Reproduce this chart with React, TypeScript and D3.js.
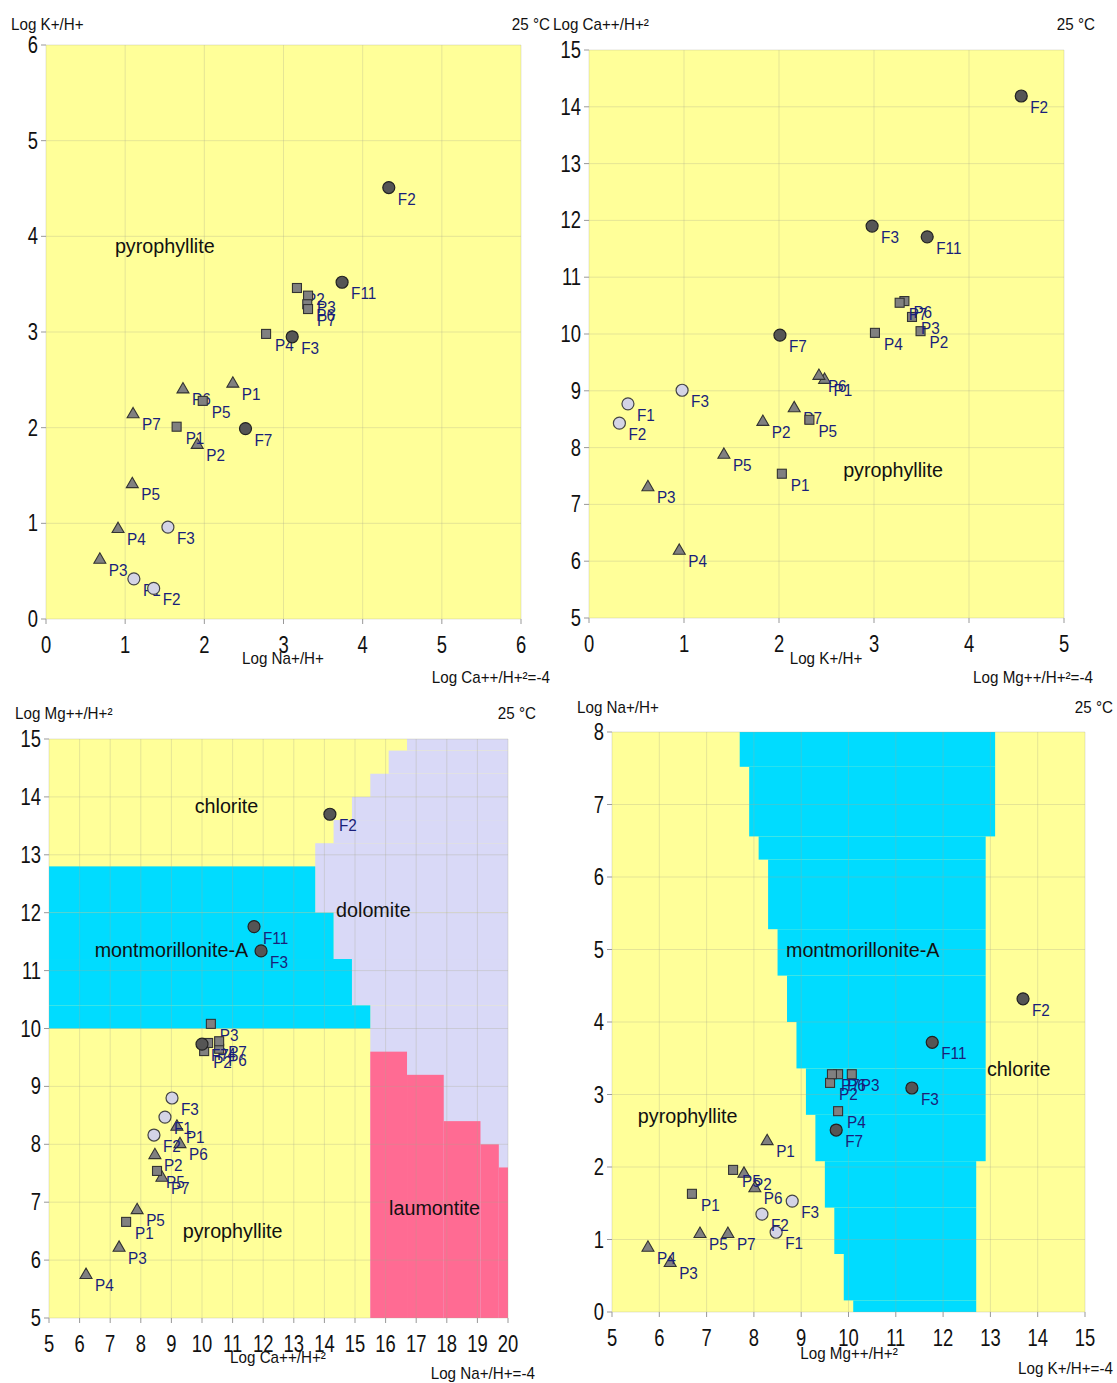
import React from 'react'
import * as d3 from 'd3'

// [label, x, y]
type Pt = [string, number, number]
// region rows: [yLow, yHigh, xLeft, xRight]
type Row = [number, number, number, number]

const FONT = "'Liberation Sans','Arial',sans-serif"
const YELLOW = '#ffff99'
const CYAN = '#00dcff'
const LAV = '#d9d9f7'
const PINK = '#ff6b93'
const LABEL = '#1a1f7a'

// ---------- panel 1 : Log Na+/H+ vs Log K+/H+ ----------
const p1Dark: Pt[] = [['F2', 4.33, 4.51], ['F11', 3.74, 3.52], ['F3', 3.11, 2.95], ['F7', 2.52, 1.99]]
const p1Light: Pt[] = [['F1', 1.11, 0.42], ['F2', 1.36, 0.32], ['F3', 1.54, 0.96]]
const p1Squares: Pt[] = [['P1', 1.65, 2.01], ['P2', 3.17, 3.46], ['P3', 3.31, 3.38], ['P4', 2.78, 2.98],
  ['P5', 1.98, 2.28], ['P6', 3.30, 3.29], ['P7', 3.31, 3.24]]
const p1Triangles: Pt[] = [['P1', 2.36, 2.47], ['P2', 1.91, 1.83], ['P3', 0.68, 0.63], ['P4', 0.91, 0.95],
  ['P5', 1.09, 1.42], ['P6', 1.73, 2.41], ['P7', 1.10, 2.15]]

// ---------- panel 2 : Log K+/H+ vs Log Ca++/H+2 ----------
const p2Dark: Pt[] = [['F2', 4.55, 14.19], ['F3', 2.98, 11.90], ['F11', 3.56, 11.71], ['F7', 2.01, 9.98]]
const p2Light: Pt[] = [['F1', 0.41, 8.77], ['F2', 0.32, 8.43], ['F3', 0.98, 9.01]]
const p2Squares: Pt[] = [['P1', 2.03, 7.54], ['P2', 3.49, 10.05], ['P3', 3.40, 10.30], ['P4', 3.01, 10.02],
  ['P5', 2.32, 8.49], ['P6', 3.32, 10.58], ['P7', 3.27, 10.55]]
const p2Triangles: Pt[] = [['P1', 2.48, 9.21], ['P2', 1.83, 8.47], ['P3', 0.62, 7.32], ['P4', 0.95, 6.20],
  ['P5', 1.42, 7.89], ['P6', 2.42, 9.28], ['P7', 2.16, 8.71]]

// ---------- panel 3 : Log Ca++/H+2 vs Log Mg++/H+2 ----------
const p3Dark: Pt[] = [['F2', 14.18, 13.70], ['F11', 11.70, 11.76], ['F3', 11.93, 11.34], ['F7', 10.0, 9.73]]
const p3Light: Pt[] = [['F1', 8.79, 8.47], ['F2', 8.43, 8.16], ['F3', 9.02, 8.80]]
const p3Squares: Pt[] = [['P1', 7.52, 6.66], ['P2', 10.07, 9.61], ['P3', 10.29, 10.08], ['P4', 10.20, 9.75],
  ['P5', 8.53, 7.54], ['P6', 10.56, 9.65], ['P7', 10.56, 9.78]]
const p3Triangles: Pt[] = [['P1', 9.18, 8.32], ['P2', 8.46, 7.83], ['P3', 7.29, 6.23], ['P4', 6.21, 5.76],
  ['P5', 7.88, 6.88], ['P6', 9.28, 8.02], ['P7', 8.69, 7.44]]
const p3Dolomite: Row[] = [[5, 10.4, 15.5, 20], [10.4, 11.2, 14.9, 20], [11.2, 12.0, 14.3, 20],
  [12.0, 13.2, 13.7, 20], [13.2, 13.6, 14.3, 20], [13.6, 14.0, 14.9, 20], [14.0, 14.4, 15.5, 20],
  [14.4, 14.8, 16.1, 20], [14.8, 15.0, 16.7, 20]]
const p3Mont: Row[] = [[10, 10.4, 5, 15.5], [10.4, 11.2, 5, 14.9], [11.2, 12.0, 5, 14.3], [12.0, 12.8, 5, 13.7]]
const p3Laum: Row[] = [[5, 9.6, 15.5, 16.7], [5, 9.2, 16.7, 17.9], [5, 8.4, 17.9, 19.1],
  [5, 8.0, 19.1, 19.7], [5, 7.6, 19.7, 20]]

// ---------- panel 4 : Log Mg++/H+2 vs Log Na+/H+ ----------
const p4Dark: Pt[] = [['F2', 13.69, 4.32], ['F11', 11.77, 3.72], ['F3', 11.34, 3.09], ['F7', 9.74, 2.51]]
const p4Light: Pt[] = [['F1', 8.47, 1.10], ['F2', 8.17, 1.35], ['F3', 8.81, 1.53]]
const p4Squares: Pt[] = [['P1', 6.69, 1.63], ['P2', 9.61, 3.16], ['P3', 10.07, 3.28], ['P4', 9.78, 2.77],
  ['P5', 7.56, 1.96], ['P6', 9.78, 3.28], ['P7', 9.65, 3.28]]
const p4Triangles: Pt[] = [['P1', 8.28, 2.37], ['P2', 7.79, 1.92], ['P3', 6.23, 0.69], ['P4', 5.76, 0.90],
  ['P5', 6.86, 1.09], ['P6', 8.02, 1.72], ['P7', 7.45, 1.09]]
const p4Mont: Row[] = [
  [7.52, 8, 7.7, 13.1], [6.56, 7.52, 7.9, 13.1], [6.24, 6.56, 8.1, 12.9], [5.28, 6.24, 8.3, 12.9],
  [4.64, 5.28, 8.5, 12.9], [4.00, 4.64, 8.7, 12.9], [3.36, 4.00, 8.9, 12.9], [2.72, 3.36, 9.1, 12.9],
  [2.08, 2.72, 9.3, 12.9], [1.44, 2.08, 9.5, 12.7], [0.80, 1.44, 9.7, 12.7], [0.16, 0.80, 9.9, 12.7],
  [0, 0.16, 10.1, 12.7]]

const ticks1 = [0, 1, 2, 3, 4, 5, 6]
const ticks2x = [0, 1, 2, 3, 4, 5]
const ticks5to15 = [5, 6, 7, 8, 9, 10, 11, 12, 13, 14, 15]
const ticks5to20 = [5, 6, 7, 8, 9, 10, 11, 12, 13, 14, 15, 16, 17, 18, 19, 20]
const ticks0to8 = [0, 1, 2, 3, 4, 5, 6, 7, 8]

type Txt = { t: string, x: number, y: number, anchor?: string, size?: number }

type Cfg = {
  left: number, right: number, top: number, bottom: number
  xDomain: [number, number], yDomain: [number, number]
  xTicks: number[], yTicks: number[]
  regions: { rows: Row[], color: string }[]
  names: [string, number, number][]
  dark: Pt[], light: Pt[], squares: Pt[], triangles: Pt[]
  titles: Txt[]
}

const tri = d3.symbol(d3.symbolTriangle, 62)()

function Marker({ kind, cx, cy }: { kind: string, cx: number, cy: number }) {
  if (kind === 'dark') return <circle cx={cx} cy={cy} r={6} fill="#555" stroke="#222" strokeWidth={1.2} />
  if (kind === 'light') return <circle cx={cx} cy={cy} r={6} fill="#d4d4e6" stroke="#444" strokeWidth={1.2} />
  if (kind === 'square') return <rect x={cx - 4.5} y={cy - 4.5} width={9} height={9} fill="#808080" stroke="#333" strokeWidth={1.1} />
  return <path d={tri as string} transform={`translate(${cx},${cy + 1})`} fill="#808080" stroke="#333" strokeWidth={1.1} />
}

// condensed text, like the narrow face of the original
function NText({ x, y, s, size, anchor, fill, k }: { x: number, y: number, s: string | number, size: number, anchor?: string, fill?: string, k: number }) {
  return <text transform={`translate(${x},${y}) scale(${k},1)`} fontSize={size} textAnchor={anchor ?? 'start'} fill={fill ?? '#111'}>{s}</text>
}

function Panel({ c }: { c: Cfg }) {
  const x = d3.scaleLinear().domain(c.xDomain).range([c.left, c.right])
  const y = d3.scaleLinear().domain(c.yDomain).range([c.bottom, c.top])
  const series: [string, Pt[]][] = [['triangle', c.triangles], ['square', c.squares], ['light', c.light], ['dark', c.dark]]
  return (
    <g fontFamily={FONT}>
      <rect x={c.left} y={c.top} width={c.right - c.left} height={c.bottom - c.top} fill={YELLOW} />
      {c.regions.map((r, i) => r.rows.map((row, j) => (
        <rect key={`${i}-${j}`} x={x(row[2])} y={y(row[1])} width={x(row[3]) - x(row[2])}
          height={y(row[0]) - y(row[1])} fill={r.color} />
      )))}
      {c.xTicks.map(t => <line key={'gx' + t} x1={x(t)} x2={x(t)} y1={c.top} y2={c.bottom} stroke="#a8a890" strokeOpacity={0.3} />)}
      {c.yTicks.map(t => <line key={'gy' + t} x1={c.left} x2={c.right} y1={y(t)} y2={y(t)} stroke="#a8a890" strokeOpacity={0.3} />)}
      {c.xTicks.map(t => <line key={'tx' + t} x1={x(t)} x2={x(t)} y1={c.bottom} y2={c.bottom + 5} stroke="#999" />)}
      {c.yTicks.map(t => <line key={'ty' + t} x1={c.left - 5} x2={c.left} y1={y(t)} y2={y(t)} stroke="#999" />)}
      {c.xTicks.map(t => <NText key={'lx' + t} x={x(t)} y={c.bottom + 34} s={t} size={23} anchor="middle" k={0.8} />)}
      {c.yTicks.map(t => <NText key={'ly' + t} x={c.left - 8} y={y(t) + 8} s={t} size={23} anchor="end" k={0.8} />)}
      {c.names.map(([t, nx, ny]) => (
        <NText key={t + nx} x={x(nx)} y={y(ny) + 7} s={t} size={21} anchor="middle" k={0.94} />
      ))}
      {series.map(([kind, pts]) => pts.map(([lab, px, py]) => (
        <g key={kind + lab}>
          <Marker kind={kind} cx={x(px)} cy={y(py)} />
          <NText x={x(px) + 9} y={y(py) + 17} s={lab} size={17} fill={LABEL} k={0.9} />
        </g>
      )))}
      {c.titles.map((t, i) => (
        <NText key={i} x={t.x} y={t.y} s={t.t} size={t.size ?? 16} anchor={t.anchor} k={0.95} />
      ))}
    </g>
  )
}

const panels: Cfg[] = [
  {
    left: 46, right: 521, top: 45, bottom: 619, xDomain: [0, 6], yDomain: [0, 6], xTicks: ticks1, yTicks: ticks1,
    regions: [], names: [['pyrophyllite', 1.5, 3.9]],
    dark: p1Dark, light: p1Light, squares: p1Squares, triangles: p1Triangles,
    titles: [
      { t: 'Log K+/H+', x: 11, y: 30 }, { t: '25 °C', x: 550, y: 30, anchor: 'end' },
      { t: 'Log Na+/H+', x: 283, y: 664, anchor: 'middle' }, { t: 'Log Ca++/H+²=-4', x: 550, y: 683, anchor: 'end' },
    ],
  },
  {
    left: 589, right: 1064, top: 50, bottom: 618, xDomain: [0, 5], yDomain: [5, 15], xTicks: ticks2x, yTicks: ticks5to15,
    regions: [], names: [['pyrophyllite', 3.2, 7.6]],
    dark: p2Dark, light: p2Light, squares: p2Squares, triangles: p2Triangles,
    titles: [
      { t: 'Log Ca++/H+²', x: 553, y: 30 }, { t: '25 °C', x: 1095, y: 30, anchor: 'end' },
      { t: 'Log K+/H+', x: 826, y: 664, anchor: 'middle' }, { t: 'Log Mg++/H+²=-4', x: 1093, y: 683, anchor: 'end' },
    ],
  },
  {
    left: 49, right: 508, top: 739, bottom: 1318, xDomain: [5, 20], yDomain: [5, 15], xTicks: ticks5to20, yTicks: ticks5to15,
    regions: [{ rows: p3Dolomite, color: LAV }, { rows: p3Mont, color: CYAN }, { rows: p3Laum, color: PINK }],
    names: [['chlorite', 10.8, 13.85], ['montmorillonite-A', 9.0, 11.35], ['dolomite', 15.6, 12.05],
      ['pyrophyllite', 11.0, 6.5], ['laumontite', 17.6, 6.9]],
    dark: p3Dark, light: p3Light, squares: p3Squares, triangles: p3Triangles,
    titles: [
      { t: 'Log Mg++/H+²', x: 15, y: 719 }, { t: '25 °C', x: 536, y: 719, anchor: 'end' },
      { t: 'Log Ca++/H+²', x: 278, y: 1363, anchor: 'middle' }, { t: 'Log Na+/H+=-4', x: 535, y: 1379, anchor: 'end' },
    ],
  },
  {
    left: 612, right: 1085, top: 732, bottom: 1312, xDomain: [5, 15], yDomain: [0, 8], xTicks: ticks5to15, yTicks: ticks0to8,
    regions: [{ rows: p4Mont, color: CYAN }],
    names: [['montmorillonite-A', 10.3, 5.0], ['chlorite', 13.6, 3.35], ['pyrophyllite', 6.6, 2.7]],
    dark: p4Dark, light: p4Light, squares: p4Squares, triangles: p4Triangles,
    titles: [
      { t: 'Log Na+/H+', x: 577, y: 713 }, { t: '25 °C', x: 1113, y: 713, anchor: 'end' },
      { t: 'Log Mg++/H+²', x: 849, y: 1359, anchor: 'middle' }, { t: 'Log K+/H+=-4', x: 1113, y: 1374, anchor: 'end' },
    ],
  },
]

export default function App() {
  return (
    <svg width={1117} height={1383} style={{ position: 'absolute', left: 0, top: 0, background: '#fff' }}>
      {panels.map((c, i) => <Panel key={i} c={c} />)}
    </svg>
  )
}
